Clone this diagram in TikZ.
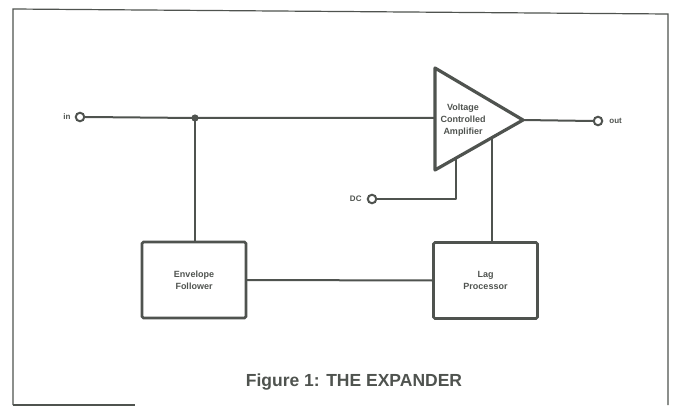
\documentclass[tikz,border=0pt]{standalone}
\usepackage{fontspec}
\setmainfont{Liberation Sans}
\usetikzlibrary{calc,positioning}
\definecolor{inchiostro}{HTML}{4F534F}

\begin{document}
\begin{tikzpicture}[
			x=1pt, y=-1pt,
			filo/.style={line width=2pt, line cap=round,
				line join=round, inchiostro},
			cornice/.style={line width=1.2pt, inchiostro},
			blocco/.style={draw=inchiostro, line width=2.8pt,
				rounded corners=1.5pt, minimum width=104pt,
				minimum height=76pt, align=center, text=inchiostro,
				font=\bfseries\fontsize{9}{12}\selectfont},
			morsetto/.style={circle, fill=white, draw=inchiostro,
				inner sep=0pt, minimum size=8.5pt,
				line width=2pt},
			etichetta/.style={text=inchiostro, inner sep=1pt,
				font=\bfseries\fontsize{8}{9}\selectfont},
			]
			\useasboundingbox (0,0) rectangle (675,409);
			
			% cornice
			\draw[cornice](13,405)--(13,9)--(668,14)--(668,405);
			\draw[cornice](13,405)--(135,405);
			
			% amplificatore
			\coordinate (vcaA) at (435, 68);
			\coordinate (vcaB) at (435,170);
			\coordinate (vcaC) at (523,120);
			\coordinate (vcaP) at ($(vcaB)!0.239!(vcaC)$);
			\coordinate (vcaQ) at ($(vcaB)!0.648!(vcaC)$);
			\draw[filo, line width=3.2pt](vcaA)--(vcaC)--(vcaB)--cycle;
			\node[align=center, text=inchiostro,
			font=\bfseries\fontsize{9}{12}\selectfont]
			(vcatesto) at (463,120) {Voltage\\Controlled\\Amplifier};
			
			% blocchi
			\node[blocco] (inviluppo) at (194,280) {Envelope\\Follower};
			\node[blocco] (ritardo) at (485.5,280.5) {Lag\\Processor};
			
			% morsetti
			\node[morsetto] (ingresso) at (80,117){};
			\node[morsetto] (uscita) at (598,121){};
			\node[morsetto] (dc) at (372,199){};
			\node[etichetta, left=3pt of ingresso] (ingressotesto) {in};
			\node[etichetta, right=5pt of uscita] (uscitatesto) {out};
			\node[etichetta, left=4pt of dc] (dctesto) {DC};
			
			% collegamenti
			\coordinate (giunzione) at (195,118);
			\draw[filo](ingresso.east)--(giunzione)--(giunzione -| vcaA);
			\fill[inchiostro] (giunzione) circle (3.6pt);
			\draw[filo](giunzione)--(giunzione |- inviluppo.north);
			\draw[filo](inviluppo.east)--(ritardo.west);
			\draw[filo](vcaC)--(uscita.west);
			\draw[filo](dc.east)-|(vcaP);
			\draw[filo](vcaQ)--(vcaQ |- ritardo.north);
			
			\node[text=inchiostro, font=\bfseries\fontsize{17.5}{20}\selectfont]
			(didascalia) at (354,382) {Figure 1: THE EXPANDER};
		\end{tikzpicture}
\end{document}
